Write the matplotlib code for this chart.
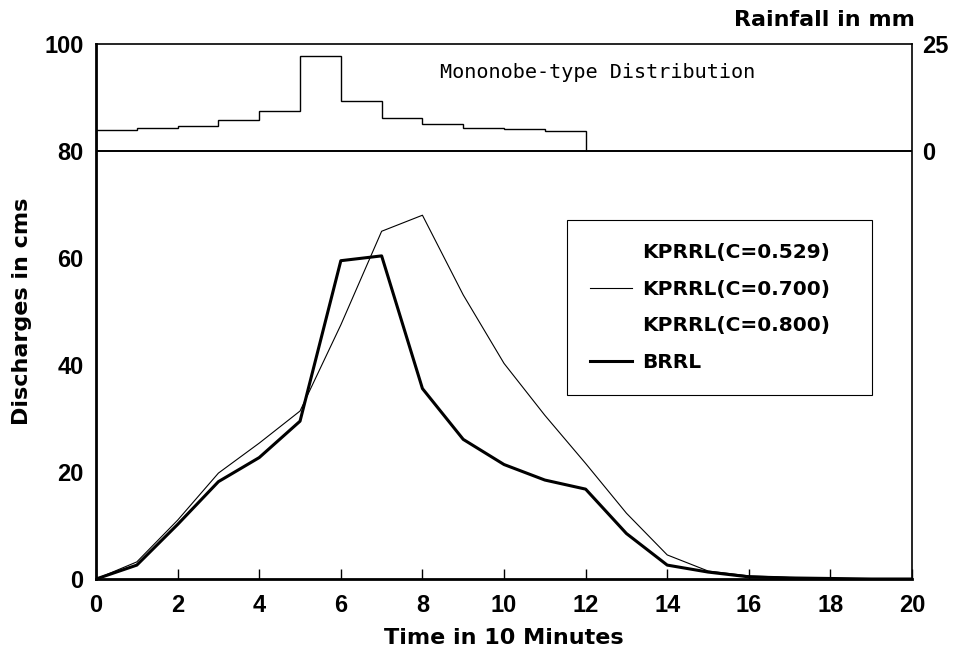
import matplotlib.pyplot as plt
from matplotlib.lines import Line2D

plt.rcParams['font.family'] = ['Liberation Sans', 'DejaVu Sans']

# time steps (10 min)
t = list(range(21))
# BRRL (thick)
brrl = [0, 2.6, 10.2, 18.2, 22.7, 29.5, 59.5, 60.4, 35.6, 26.1, 21.4, 18.5, 16.8,
        8.5, 2.6, 1.3, 0.4, 0.2, 0.1, 0, 0]
# KPRRL C=0.700 (thin)
kprrl_700 = [0, 3.2, 11.0, 19.8, 25.4, 31.4, 47.5, 65.0, 68.0, 53.1, 40.3, 30.6, 21.6,
             12.3, 4.5, 1.5, 0.6, 0.3, 0.1, 0, 0]
# rainfall hyetograph (mm per 10 min)
rain_edges = list(range(13))
rain = [4.9, 5.3, 5.8, 7.2, 9.3, 22.2, 11.8, 7.8, 6.2, 5.4, 5.2, 4.7]

wide = ['DejaVu Sans']

fig = plt.figure(figsize=(9.68, 6.57), dpi=100)
ax = fig.add_axes([0.0992, 0.1187, 0.8430, 0.8143])

ax.plot(t, kprrl_700, color='black', lw=0.8)
ax.plot(t, brrl, color='black', lw=2.2)

ax.set_xlim(0, 20)
ax.set_ylim(0, 100)
ax.set_xticks(range(0, 21, 2))
ax.set_yticks(range(0, 101, 20))
ax.tick_params(axis='x', direction='in', length=7, width=1, pad=11, labelsize=17)
ax.tick_params(axis='y', direction='in', length=0, pad=9, labelsize=17)
for lab in ax.get_xticklabels() + ax.get_yticklabels():
    lab.set_fontweight('bold')
for s in ax.spines.values():
    s.set_linewidth(1.2)
ax.spines['left'].set_linewidth(2)
ax.spines['bottom'].set_linewidth(2)

ax.set_xlabel('Time in 10 Minutes', family=wide, fontsize=16, fontweight='bold', labelpad=8)
ax.set_ylabel('Discharges in cms', family=wide, fontsize=16, fontweight='bold', labelpad=9)

# rainfall on right axis: 0 mm at 80, 25 mm at 100
ax2 = ax.twinx()
ax2.set_ylim(-100, 25)
ax2.stairs(rain, rain_edges, baseline=0, color='black', lw=1.0)
ax2.axhline(0, color='black', lw=1.4)
ax2.set_yticks([0, 25])
ax2.tick_params(axis='y', direction='in', length=0, pad=7, labelsize=17)
for lab in ax2.get_yticklabels():
    lab.set_fontweight('bold')
for s in ax2.spines.values():
    s.set_visible(False)

ax.text(0.4216, 0.946, 'Mononobe-type Distribution', transform=ax.transAxes,
        family='DejaVu Sans Mono', fontsize=14.5, ha='left', va='center')
fig.text(0.945, 0.97, 'Rainfall in mm', family=wide, fontsize=16, fontweight='bold',
         ha='right', va='center')

handles = [Line2D([], [], color='none'),
           Line2D([], [], color='black', lw=0.8),
           Line2D([], [], color='none'),
           Line2D([], [], color='black', lw=2.2)]
labels = ['KPRRL(C=0.529)', 'KPRRL(C=0.700)', 'KPRRL(C=0.800)', 'BRRL']
leg = ax.legend(handles, labels, loc='upper left', bbox_to_anchor=(0.577, 0.0, 0.374, 0.671),
                mode='expand', fancybox=False, edgecolor='black', framealpha=1,
                prop={'family': wide, 'weight': 'bold', 'size': 14.5}, handlelength=2.1,
                handletextpad=0.5, borderpad=1.15, labelspacing=0.87, borderaxespad=0)
leg.get_frame().set_linewidth(0.8)

fig.savefig('out.png', dpi=100)
